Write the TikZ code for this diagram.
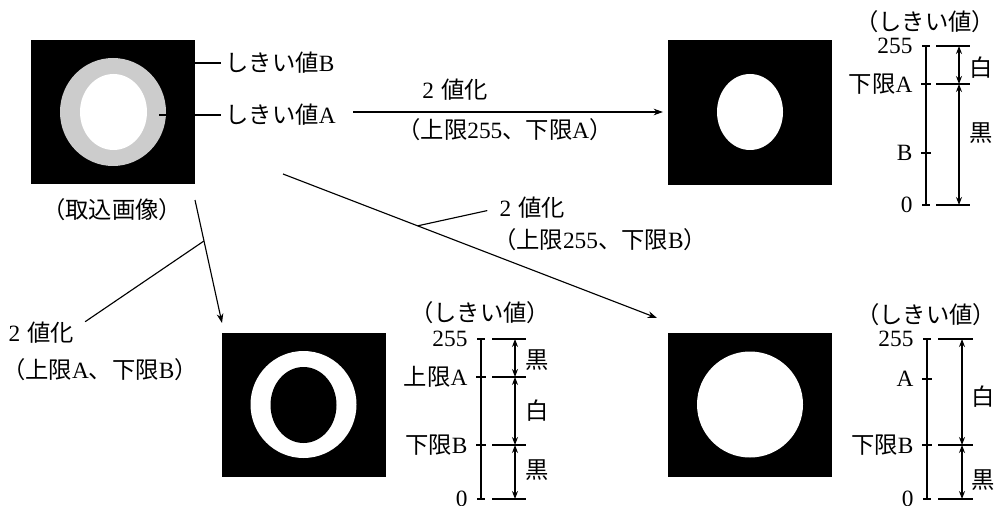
\documentclass[tikz,border=0pt]{standalone}
\usepackage{fontspec}
\setmainfont{Liberation Serif}
\newfontfamily\jp{Noto Sans CJK JP}
\usetikzlibrary{arrows.meta}
\begin{document}
\begin{tikzpicture}[
  x=0.75pt,y=-0.75pt,
  font=\fontsize{17.5}{19}\selectfont,
  line width=0.85pt,
  img/.style={fill=black, minimum width=123pt, minimum height=108pt, inner sep=0pt},
  arrow/.style={-{Stealth[length=7pt,width=5pt]}},
  dim/.style={{Stealth[length=6pt,width=4.5pt]}-{Stealth[length=6pt,width=4.5pt]}},
  halo/.style={draw=white, double=black, double distance=0.8pt, line width=0.7pt},
  tick/.style={anchor=east, inner sep=0pt},
  lbl/.style={inner sep=0pt}
]
\useasboundingbox (0,0) rectangle (995,506);

% images
\node[img] (src) at (113,112) {};
\fill[gray!40] (113,112) ellipse [x radius=53, y radius=54];
\fill[white] (113.5,112) ellipse [x radius=33.5, y radius=38];
\node[img] (binA) at (749.5,112.5) {};
\fill[white] (750,112) ellipse [x radius=33, y radius=38];
\node[img] (binAB) at (304,404.5) {};
\fill[white] (303.5,404.5) ellipse [x radius=53, y radius=53.5];
\fill[black] (303.5,405) ellipse [x radius=33, y radius=38];
\node[img] (binB) at (750,404.5) {};
\fill[white] (750,404.5) circle [radius=53];

% source labels
\node[lbl, anchor=west] (thB) at (225,63) {{\jp しきい値}B};
\node[lbl, anchor=west] (thA) at (225,115) {{\jp しきい値}A};
\coordinate (pB) at (172,63);
\coordinate (pA) at (159,115);
\draw[halo, shorten >=3pt] (pB) -- (thB.west);
\draw[halo, shorten >=3pt] (pA) -- (thA.west);
\node[lbl] (cap) at (112,210) {\jp （取込画像）};

% binarisation 255/A
\coordinate (a1) at (353,112);
\draw[arrow, shorten >=3pt] (a1) -- (a1 -| binA.west);
\node[lbl] (t1) at (455,90) {2\hspace{0.3em}{\jp 値化}};
\node[lbl] (t1b) at (505,130) {{\jp （上限}255{\jp 、下限}A{\jp ）}};

% binarisation 255/B
\coordinate (a2) at (283,174);
\coordinate (e2) at (657,318);
\draw[arrow] (a2) -- (e2);
\path (a2) -- (e2) coordinate[pos=0.36] (m2);
\node[lbl, anchor=west] (t2) at (499,208) {2\hspace{0.3em}{\jp 値化}};
\draw[shorten >=9pt] (m2) -- (t2.west);
\node[lbl] (t2b) at (600,240) {{\jp （上限}255{\jp 、下限}B{\jp ）}};

% binarisation A/B
\coordinate (a3) at (195,200);
\coordinate (e3) at (222,323);
\draw[arrow] (a3) -- (e3);
\path (a3) -- (e3) coordinate[pos=0.333] (m3);
\node[lbl, anchor=west] (t3) at (8,333) {2\hspace{0.3em}{\jp 値化}};
\draw (m3) -- ([xshift=8pt]t3.north east);
\node[lbl] (t3b) at (100,370) {{\jp （上限}A{\jp 、下限}B{\jp ）}};

% scale 255/A
\node[lbl] (h1) at (925,22) {\jp （しきい値）};
\draw (926,46) -- (926,205);
\foreach \y in {46,205} \draw (922,\y) -- (930,\y);
\foreach \y in {84,153} \draw (921,\y) -- (931,\y);
\foreach \y/\t [count=\i] in {46/255, 84/{{\jp 下限}A}, 153/B, 205/0}
  \node[tick] (s1t\i) at (913,\y) {\t};
\foreach \y in {46,84,205} \draw (936,\y) -- (970,\y);
\draw[dim] (959,46) -- (959,84);
\draw[dim] (959,84) -- (959,205);
\node[lbl] (s1w) at (981,68) {\jp 白};
\node[lbl] (s1k) at (981,133) {\jp 黒};

% scale A/B
\node[lbl] (h2) at (480,313) {\jp （しきい値）};
\draw (481,339) -- (481,499);
\foreach \y in {339,499} \draw (477,\y) -- (485,\y);
\foreach \y in {377,445} \draw (476,\y) -- (486,\y);
\foreach \y/\t [count=\i] in {339/255, 377/{{\jp 上限}A}, 445/{{\jp 下限}B}, 499/0}
  \node[tick] (s2t\i) at (468,\y) {\t};
\foreach \y in {339,377,445,499} \draw (492,\y) -- (526,\y);
\draw[dim] (515,339) -- (515,377);
\draw[dim] (515,377) -- (515,445);
\draw[dim] (515,445) -- (515,499);
\node[lbl] (s2k1) at (537,360) {\jp 黒};
\node[lbl] (s2w) at (537,411) {\jp 白};
\node[lbl] (s2k2) at (537,470) {\jp 黒};

% scale 255/B
\node[lbl] (h3) at (926,315) {\jp （しきい値）};
\draw (927,339) -- (927,499);
\foreach \y in {339,499} \draw (923,\y) -- (931,\y);
\foreach \y in {379,445} \draw (922,\y) -- (932,\y);
\foreach \y/\t [count=\i] in {339/255, 379/A, 445/{{\jp 下限}B}, 499/0}
  \node[tick] (s3t\i) at (914,\y) {\t};
\foreach \y in {339,445,499} \draw (938,\y) -- (973,\y);
\draw[dim] (962,339) -- (962,445);
\draw[dim] (962,445) -- (962,499);
\node[lbl] (s3w) at (983,397) {\jp 白};
\node[lbl] (s3k) at (983,480) {\jp 黒};
\end{tikzpicture}
\end{document}
